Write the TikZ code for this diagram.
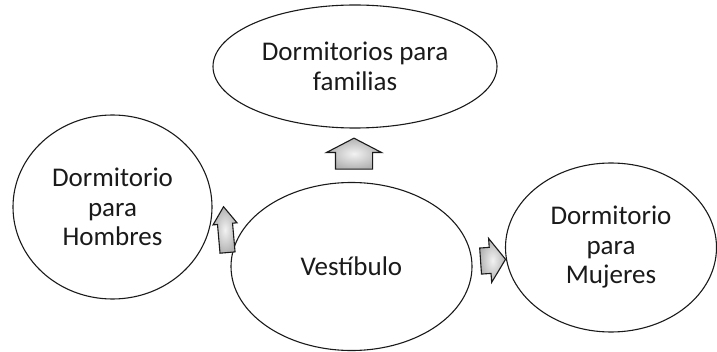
\documentclass[tikz,border=0pt]{standalone}
\usepackage{fontspec}
\setmainfont{Carlito}
\usetikzlibrary{shapes.geometric,shapes.arrows}
\definecolor{tinta}{HTML}{1A1A1A}

\begin{document}
\begin{tikzpicture}[x=1pt,y=1pt,
  cuarto/.style={draw=tinta,line width=1.1pt,ellipse,inner sep=0pt,align=center,
    font=\fontsize{27}{29.5}\selectfont,text=tinta},
  flecha/.style={draw=tinta,line width=1.1pt,single arrow,inner xsep=0pt,
    shading=radial,inner color=gray!10,outer color=gray!60}]
  \useasboundingbox (0,0) rectangle (717,351);
  % habitaciones
  \node[cuarto,minimum width=284,minimum height=123] (familias) at (355,284.5) {Dormitorios para\\familias};
  \node[cuarto,minimum width=199,minimum height=184] (hombres) at (112.5,144) {Dormitorio\\para\\Hombres};
  \node[cuarto,minimum width=241,minimum height=168] (vestibulo) at (351.5,84.5) {Vestíbulo};
  \node[cuarto,minimum width=211,minimum height=169] (mujeres) at (611,103.5) {Dormitorio\\para\\Mujeres};
  % flechas
  \node[flecha,rotate=90,inner ysep=18,minimum height=31,minimum width=54,
    single arrow head extend=9,single arrow tip angle=125] (aFam) at (354,192.5) {};
  \node[flecha,rotate=95,inner ysep=7,minimum height=46,minimum width=23,
    single arrow head extend=4.5,single arrow tip angle=70] (aHom) at (226,116) {};
  \node[flecha,rotate=4,inner ysep=12.5,minimum height=25,minimum width=44,
    single arrow head extend=9,single arrow tip angle=110] (aMuj) at (488.5,90.5) {};
\end{tikzpicture}
\end{document}
